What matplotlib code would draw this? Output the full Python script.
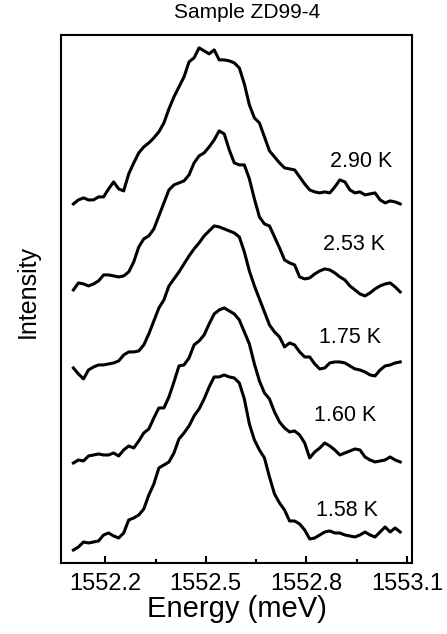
import matplotlib.pyplot as plt
from matplotlib.ticker import MultipleLocator

plt.rcParams['font.family'] = ['Liberation Sans', 'DejaVu Sans']

# energy grid (meV), shared by all spectra
energy = [1552.105, 1552.120, 1552.135, 1552.150, 1552.165, 1552.180, 1552.195, 1552.210,
          1552.225, 1552.240, 1552.255, 1552.270, 1552.285, 1552.300, 1552.315, 1552.330,
          1552.345, 1552.360, 1552.375, 1552.390, 1552.405, 1552.420, 1552.435, 1552.450,
          1552.465, 1552.480, 1552.495, 1552.510, 1552.525, 1552.540, 1552.555, 1552.570,
          1552.585, 1552.600, 1552.615, 1552.630, 1552.645, 1552.660, 1552.675, 1552.690,
          1552.705, 1552.720, 1552.735, 1552.750, 1552.765, 1552.780, 1552.795, 1552.810,
          1552.825, 1552.840, 1552.855, 1552.870, 1552.885, 1552.900, 1552.915, 1552.930,
          1552.945, 1552.960, 1552.975, 1552.990, 1553.005, 1553.020, 1553.035, 1553.050,
          1553.065, 1553.080]

temps = ['1.58 K', '1.60 K', '1.75 K', '2.53 K', '2.90 K']

# PL intensity (arb. units), one spectrum per temperature
i_158 = [0, 3, 8, 7, 8, 9, 15, 17, 14, 12, 17, 30, 32, 35, 41, 55, 66, 82, 85, 88, 97, 111,
         117, 124, 134, 141, 151, 163, 173, 173, 175, 173, 172, 167, 151, 126, 110, 100, 92,
         73, 56, 47, 40, 29, 29, 26, 20, 11, 12, 15, 18, 19, 17, 17, 15, 14, 13, 15, 18, 15,
         13, 18, 23, 18, 22, 18]
i_160 = [0, 3, 2, 7, 8, 9, 8, 8, 10, 7, 13, 17, 15, 22, 30, 34, 45, 55, 55, 66, 81, 97, 98,
         105, 118, 122, 128, 139, 149, 153, 155, 152, 149, 143, 131, 119, 99, 82, 70, 64, 51,
         41, 35, 31, 32, 28, 20, 5, 11, 15, 20, 17, 13, 8, 10, 12, 14, 13, 6, 3, 1, 2, 3, 6,
         3, 1]
i_175 = [12, 6, 1, 10, 13, 15, 15, 16, 17, 19, 25, 28, 28, 29, 35, 46, 59, 72, 80, 94, 101,
         108, 116, 124, 131, 137, 144, 149, 154, 153, 151, 149, 147, 143, 128, 109, 94, 81,
         68, 55, 48, 43, 33, 37, 35, 28, 23, 23, 16, 11, 12, 17, 18, 18, 17, 14, 11, 10, 8,
         5, 4, 10, 14, 15, 17, 18]
i_253 = [6, 13, 12, 10, 12, 15, 21, 21, 20, 19, 20, 24, 34, 49, 57, 60, 67, 80, 93, 106, 111,
         113, 115, 121, 133, 140, 143, 149, 156, 165, 162, 146, 133, 131, 131, 117, 97, 79,
         72, 70, 59, 48, 36, 33, 31, 19, 17, 18, 22, 25, 27, 26, 23, 19, 16, 10, 6, 2, 0, 3,
         7, 10, 12, 13, 9, 4]
i_290 = [0, 4, 6, 4, 4, 7, 7, 15, 22, 15, 13, 30, 41, 51, 57, 61, 66, 72, 81, 95, 107, 117,
         127, 142, 146, 156, 153, 150, 154, 144, 144, 143, 141, 136, 120, 99, 86, 81, 67, 53,
         47, 41, 36, 35, 34, 27, 20, 14, 12, 11, 12, 11, 17, 24, 22, 14, 11, 12, 9, 10, 11, 4,
         1, 3, 2, 0]

spectra = [i_158, i_160, i_175, i_253, i_290]
offsets = [13, 100, 183, 267, 359]
label_pos = [(1552.920, 52), (1552.917, 147), (1552.929, 225), (1552.941, 318), (1552.962, 401)]

fig = plt.figure(figsize=(4.47, 6.34), dpi=100)
ax = fig.add_axes([0.1365, 0.112, 0.785, 0.833])

for spec, off, name, pos in zip(spectra, offsets, temps, label_pos):
    ax.plot(energy, [v + off for v in spec], color='black', lw=2.2)
    ax.text(pos[0], pos[1], name, fontsize=15.5, ha='center', va='center')

ax.set_xlim(1552.068, 1553.115)
ax.set_ylim(0, 528)
ax.xaxis.set_major_locator(MultipleLocator(0.3))
ax.xaxis.set_minor_locator(MultipleLocator(0.15))
ax.xaxis.set_major_formatter(plt.FuncFormatter(lambda v, p: '%.1f' % v))
ax.set_yticks([])
ax.tick_params(axis='x', which='major', direction='in', length=5, width=1.5,
               labelsize=17, pad=7)
ax.tick_params(axis='x', which='minor', direction='in', length=3, width=1.5)
for s in ax.spines.values():
    s.set_linewidth(1.5)

ax.set_xlabel('Energy (meV)', fontsize=21, labelpad=0)
ax.set_ylabel('Intensity', fontsize=18)
ax.yaxis.set_label_coords(-0.06, 0.515)

fig.text(247 / 447, 1 - 13 / 634, 'Sample ZD99-4', fontsize=15, ha='center', va='center')

fig.savefig('out.png', dpi=100)
